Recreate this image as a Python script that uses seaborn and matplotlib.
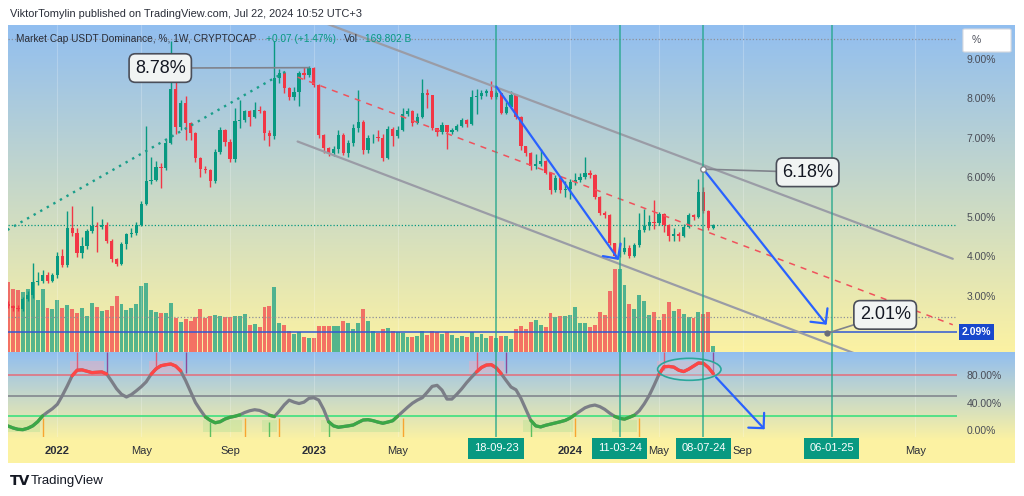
import numpy as np
import pandas as pd
import matplotlib
matplotlib.use('Agg')
import matplotlib.pyplot as plt
import matplotlib.dates as mdates
import matplotlib.transforms as mtransforms
from matplotlib.patches import Ellipse, Rectangle, FancyBboxPatch
import seaborn as sns

# ---------------- data ----------------
start_week = '2021-10-25'          # first weekly candle (Monday)
first_open = 2.80

close = [2.74, 2.70, 2.68, 2.92, 3.02, 3.35, 3.37, 3.53, 3.38, 3.52,
         4.01, 3.78, 4.71, 4.60, 4.08, 4.27, 4.64, 4.77, 4.75, 4.80,
         4.40, 3.93, 3.81, 4.31, 4.56, 4.60, 4.80, 5.33, 5.91, 5.94,
         6.27, 6.25, 6.88, 8.23, 7.28, 7.88, 7.37, 7.12, 6.49, 6.21,
         6.20, 5.90, 6.65, 7.20, 6.90, 6.46, 7.42, 7.46, 7.67, 7.54,
         7.71, 7.69, 7.12, 7.05, 8.52, 8.64, 8.27, 8.03, 8.17, 8.64,
         8.60, 8.78, 8.34, 7.08, 6.74, 6.61, 6.71, 7.08, 6.63, 6.86,
         7.24, 7.41, 6.70, 6.99, 7.01, 7.00, 6.49, 7.22, 7.05, 7.20,
         7.60, 7.68, 7.38, 7.52, 8.13, 8.08, 7.24, 7.14, 7.32, 7.14,
         7.20, 7.31, 7.46, 7.36, 8.04, 8.07, 8.13, 8.19, 8.04, 8.13,
         7.64, 7.79, 8.09, 7.52, 6.79, 6.61, 6.29, 6.33, 6.41, 6.12,
         5.67, 5.98, 5.67, 5.70, 5.89, 5.93, 6.00, 6.10, 6.06, 5.50,
         5.11, 5.05, 4.33, 4.01, 4.12, 4.22, 4.01, 4.29, 4.67, 4.77,
         4.86, 4.84, 5.07, 4.80, 4.52, 4.58, 4.52, 4.75, 5.04, 5.01,
         5.62, 5.15, 4.72, 4.79]

high = [2.86, 2.78, 2.76, 2.98, 3.12, 3.84, 3.60, 3.66, 3.60, 3.58,
        4.12, 4.20, 5.15, 5.27, 4.72, 4.50, 4.70, 5.27, 4.86, 4.95,
        4.86, 4.45, 3.95, 4.36, 4.60, 4.72, 4.86, 5.40, 7.29, 6.52,
        6.42, 6.36, 6.95, 9.45, 8.60, 7.95, 8.05, 7.40, 7.15, 6.52,
        6.30, 6.22, 6.72, 7.28, 7.22, 6.98, 7.75, 7.95, 7.72, 7.70,
        7.90, 7.80, 7.72, 7.20, 9.45, 8.75, 8.70, 8.30, 8.30, 8.70,
        8.80, 8.82, 8.80, 8.36, 7.10, 6.78, 6.80, 7.20, 7.12, 6.96,
        7.35, 8.22, 7.45, 7.08, 7.10, 7.20, 7.10, 7.30, 7.28, 7.30,
        7.75, 7.75, 7.70, 7.62, 8.50, 8.25, 8.10, 7.26, 7.40, 7.34,
        7.24, 7.36, 7.50, 7.48, 8.22, 8.25, 8.22, 8.24, 8.45, 8.20,
        8.15, 7.90, 8.18, 8.12, 7.55, 6.80, 6.65, 6.60, 6.72, 6.45,
        6.15, 6.05, 6.02, 5.90, 5.95, 6.12, 6.10, 6.51, 6.18, 6.08,
        5.52, 5.15, 5.08, 4.35, 4.35, 4.50, 4.30, 4.35, 5.10, 5.20,
        5.05, 5.43, 5.12, 5.10, 4.82, 4.72, 4.62, 4.82, 5.10, 5.08,
        5.95, 5.77, 5.18, 4.81]

low = [2.70, 2.62, 2.62, 2.62, 2.88, 2.95, 3.28, 3.33, 3.32, 3.34,
       3.46, 3.72, 3.74, 4.52, 3.98, 3.95, 4.20, 4.60, 4.12, 4.70,
       4.35, 3.86, 3.75, 3.78, 4.18, 4.48, 4.55, 4.76, 5.30, 5.84,
       5.90, 5.74, 6.18, 6.85, 7.10, 7.20, 6.94, 6.95, 6.40, 6.02,
       6.10, 5.76, 5.85, 6.60, 6.80, 6.40, 6.40, 7.25, 7.40, 7.30,
       7.50, 7.62, 6.95, 6.80, 6.98, 8.40, 8.15, 7.97, 7.95, 7.82,
       8.50, 8.55, 8.28, 7.00, 6.62, 6.54, 6.55, 6.62, 6.56, 6.52,
       6.80, 7.15, 6.60, 6.62, 6.88, 6.92, 6.42, 6.46, 6.80, 7.00,
       7.18, 7.55, 7.30, 7.35, 7.50, 7.75, 7.20, 7.05, 7.10, 6.72,
       7.10, 7.18, 7.28, 7.28, 7.34, 7.60, 7.98, 8.05, 7.98, 7.98,
       7.60, 7.60, 7.75, 7.48, 6.70, 6.55, 6.20, 6.22, 6.30, 6.08,
       5.58, 5.62, 5.60, 5.50, 5.45, 5.80, 5.88, 5.95, 5.98, 5.45,
       5.05, 4.98, 4.28, 3.95, 3.98, 4.05, 3.97, 3.99, 4.25, 4.62,
       4.68, 4.70, 4.80, 4.62, 4.38, 4.40, 4.38, 4.50, 4.72, 4.92,
       4.98, 5.10, 4.68, 4.70]

# weekly volume, billions (approx.)
volume = [1900, 1700, 1670, 1610, 1700, 1900, 1400, 1700, 1200, 1160,
          1400, 1200, 1270, 1160, 1040, 1200, 980, 1310, 1220, 1120,
          1130, 1240, 1520, 1290, 1130, 1200, 1290, 1780, 1850, 1130,
          1070, 1040, 1040, 1310, 930, 820, 880, 850, 940, 1160,
          930, 970, 1000, 980, 950, 950, 980, 980, 1020, 730,
          760, 670, 1210, 1250, 1760, 790, 730, 570, 480, 530,
          400, 370, 390, 710, 710, 710, 710, 710, 850, 770,
          610, 770, 1150, 840, 570, 520, 620, 640, 580, 550,
          500, 410, 410, 430, 570, 460, 580, 550, 490, 530,
          450, 390, 440, 410, 530, 410, 490, 370, 430, 390,
          430, 430, 340, 610, 710, 610, 820, 860, 730, 680,
          1040, 950, 970, 970, 1000, 1210, 770, 770, 680, 730,
          1090, 1000, 1660, 2240, 2240, 1810, 1300, 1150, 1540, 1390,
          1000, 1090, 860, 1020, 1360, 1110, 1150, 1020, 950, 910,
          1090, 1020, 1090, 170]

# oscillator (%)
osc = [5.8, 3, 1, 0.5, 2.5, 6, 12, 20.5, 26, 31,
       37.5, 50, 64, 79, 87, 87.5, 85.5, 83.5, 84, 84.5,
       81.5, 71, 60, 52, 48, 51.5, 57, 63, 70, 81,
       89, 93.5, 95, 96, 93, 86, 72, 56, 40, 29,
       19, 14, 10.5, 12, 16, 18.5, 20, 22, 25.5, 28,
       29.5, 28.5, 25.5, 21.5, 19.5, 27.5, 36.5, 43.5, 40.5, 38.5,
       40.5, 46, 47, 43.5, 30, 12, 6, 4, 5, 6,
       7.3, 11, 14.5, 15, 13.6, 11.5, 9.8, 11.5, 13.5, 20,
       26.5, 33, 39, 43.5, 47, 55, 63.5, 65, 58, 45,
       45, 52, 60, 69, 77, 84.5, 91, 94.5, 95, 90.5,
       82, 72, 62.5, 58.5, 46, 30, 14, 6, 4.5, 6.8,
       8.5, 10.3, 12, 14, 17.5, 22.5, 27.5, 32.3, 35, 36.3,
       34, 30, 24.5, 19.8, 17, 15.8, 18.5, 21.5, 28, 38,
       50, 65, 81, 92, 92.5, 91.5, 87, 85, 88.5, 93,
       97.5, 97, 91, 82]

# oscillator signal marks (candle indices)
red_zones = [(13, 19), (29, 35), (94, 100), (132, 143)]
green_zones = [(0, 6), (40, 47), (52, 54), (64, 79), (105, 114), (123, 127)]
top_red_marks = [14, 30, 95, 133]
top_purple_marks = [20, 36, 101, 143]
bottom_orange_marks = [7, 48, 55, 80, 115, 128]
bottom_green_marks = [41, 53, 65, 106]

price_ticks = [3, 4, 5, 6, 7, 8, 9]
osc_ticks = [0, 40, 80]
osc_levels = [80, 50, 20]

time_label_dates = ['2022-01-03', '2022-05-02', '2022-09-05', '2023-01-02', '2023-05-01',
                    '2024-01-01', '2024-05-06', '2024-09-02', '2025-05-05']
time_label_texts = ['2022', 'May', 'Sep', '2023', 'May', '2024', 'May', 'Sep', 'May']

marker_dates = ['2023-09-18', '2024-03-11', '2024-07-08', '2025-01-06']
marker_texts = ['18-09-23', '11-03-24', '08-07-24', '06-01-25']

# drawings on the price pane
trend_dates = ['2021-10-24', '2022-11-25']
trend_vals = [4.67, 8.70]
channel_dates = ['2022-12-10', '2025-06-27']
channel_upper = [10.17, 3.94]
channel_mid = [8.54, 2.27]
channel_lower = [6.91, 0.60]
arrow1_dates = ['2023-09-18', '2024-03-10']
arrow1_vals = [8.30, 3.91]
arrow2_dates = ['2024-07-08', '2024-12-30']
arrow2_vals = [6.21, 2.27]
osc_arrow_dates = ['2024-07-26', '2024-10-03']
osc_arrow_vals = [76.7, 1.0]
hline_blue = 2.09
hline_dotted = [9.5, 2.47]

labels = [('8.78%', '2022-12-26', 8.78, '2022-05-29', 8.77),
          ('6.18%', '2024-07-08', 6.21, '2024-12-03', 6.13),
          ('2.01%', '2024-12-30', 2.05, '2025-03-23', 2.52)]

# ---------------- figure ----------------
sns.set_style('white')
plt.rcParams['font.family'] = ['Liberation Sans', 'DejaVu Sans']

W, H = 1024, 496
fig = plt.figure(figsize=(W / 100, H / 100), dpi=100)
fig.patch.set_facecolor('white')


def box(l, t, r, b):
    return [l / W, 1 - b / H, (r - l) / W, (b - t) / H]


# gradient background (blue -> yellow)
c_top = np.array([145, 190, 240]) / 255
c_bot = np.array([252, 242, 162]) / 255
rows = np.arange(25, 463) + 0.5
tt = np.where(rows < 352, (rows - 25) / (352 - 25), np.clip((rows - 352) / (440 - 352), 0, 1))
grad = c_top[None, :] + tt[:, None] * (c_bot - c_top)[None, :]
bg = fig.add_axes(box(8, 25, 1015, 463))
bg.imshow(grad[:, None, :], aspect='auto', extent=(0, 1, 0, 1))
bg.axis('off')
bg.set_zorder(0)

dates = pd.date_range(start_week, periods=len(close), freq='7D')
x = mdates.date2num(dates)
xlim = (x[0] - 0.1, mdates.date2num(pd.Timestamp('2025-07-03')))
close_a = np.array(close)
op = np.r_[first_open, close_a[:-1]]
up = close_a >= op
col = np.where(up, '#089981', '#f23645')

d2n = lambda d: mdates.date2num(pd.Timestamp(d))

# volume pane (shares area with price)
vax = fig.add_axes(box(8, 25, 957, 352))
vax.set_facecolor('none')
vax.bar(x, volume, width=5.6, color=col, alpha=0.68, linewidth=0)
vax.set_xlim(*xlim)
vax.set_ylim(0, 8830)
vax.axis('off')
vax.set_zorder(1)

# price pane
ax = fig.add_axes(box(8, 25, 957, 352))
ax.set_facecolor('none')
ax.set_zorder(2)
ax.set_xlim(*xlim)
ax.set_ylim(1.58, 9.86)

for d in time_label_dates:
    ax.axvline(d2n(d), color='white', alpha=0.22, lw=0.8, zorder=0)

for v in hline_dotted:
    ax.axhline(v, color='#8d909a', ls=(0, (1, 1.6)), lw=0.9, zorder=1)
ax.axhline(close[-1], color='#089981', ls=(0, (1, 1.6)), lw=0.9, zorder=1)
ax.axhline(hline_blue, color='#3159d4', lw=1.1, zorder=2)

# candles
ax.vlines(x, low, high, colors=col, lw=1, zorder=3)
body_lo = np.minimum(op, close_a)
body_h = np.maximum(np.abs(close_a - op), 0.02)
ax.bar(x, body_h, bottom=body_lo, width=4.6, color=col, linewidth=0, zorder=4)

# trend line and channel
ax.plot([d2n(d) for d in trend_dates], trend_vals, color='#1a9e8a', ls=(0, (1, 2.2)), lw=1.7, zorder=5)
cx = [d2n(d) for d in channel_dates]
ax.plot(cx, channel_upper, color='#9a9ca6', lw=1.6, zorder=5)
ax.plot(cx, channel_lower, color='#9a9ca6', lw=1.6, zorder=5)
ax.plot(cx, channel_mid, color='#f0525c', ls=(0, (4, 4)), lw=1.1, zorder=5)

# vertical markers
for d in marker_dates:
    ax.axvline(d2n(d), color='#23a68a', lw=1.2, alpha=0.8, zorder=6)

arrow_kw = dict(arrowstyle='->,head_length=0.65,head_width=0.65', color='#2962ff', lw=1.6,
                shrinkA=0, shrinkB=0, mutation_scale=12)
for ds, vs in [(arrow1_dates, arrow1_vals), (arrow2_dates, arrow2_vals)]:
    ax.annotate('', xy=(d2n(ds[1]), vs[1]), xytext=(d2n(ds[0]), vs[0]), arrowprops=arrow_kw, zorder=7)

# callout labels
for txt, ad, av, bd, bv in labels:
    ax.annotate(txt, xy=(d2n(ad), av), xytext=(d2n(bd), bv), fontsize=13, color='#131722',
                ha='center', va='center', zorder=9,
                bbox=dict(boxstyle='round,pad=0.32,rounding_size=0.35', fc='#f1f4f3', ec='#4a4e59', lw=1.2),
                arrowprops=dict(arrowstyle='-', color='#80838c', lw=1.2, shrinkA=0, shrinkB=0))
ax.plot(d2n(labels[1][1]), labels[1][2], 'o', ms=4, mfc='white', mec='#80838c', zorder=10)
ax.plot(d2n(labels[2][1]), labels[2][2], 'o', ms=3.5, mfc='#6a6d78', mec='#6a6d78', zorder=10)

ax.yaxis.tick_right()
ax.set_yticks(price_ticks)
ax.set_yticklabels([f'{v:.2f}%' for v in price_ticks])
ax.tick_params(axis='y', length=0, pad=7, labelsize=7.5, labelcolor='#4a4d57')
ax.set_xticks([])
ax.text(1.005, hline_blue, f'{hline_blue:.2f}%', transform=mtransforms.blended_transform_factory(ax.transAxes, ax.transData),
        ha='left', va='center', fontsize=7.5, color='white', fontweight='bold',
        bbox=dict(boxstyle='square,pad=0.3', fc='#1848cc', ec='none'), zorder=10, clip_on=False)
sns.despine(ax=ax, left=True, bottom=True, right=True, top=True)

# oscillator pane
oax = fig.add_axes(box(8, 352, 957, 437))
oax.set_facecolor('none')
oax.set_zorder(2)
oax.set_xlim(*xlim)
oax.set_ylim(-10.2, 113.5)
for d in time_label_dates:
    oax.axvline(d2n(d), color='white', alpha=0.22, lw=0.8, zorder=0)
for lv, lc in zip(osc_levels, ['#e56b78', '#7d808a', '#2fe07a']):
    oax.axhline(lv, color=lc, lw=1.1, zorder=1)
for a, b in red_zones:
    oax.add_patch(Rectangle((x[a] - 3.5, 82.5), x[b] - x[a] + 7, 18.5, fc='#f2a9bd', alpha=0.45, lw=0, zorder=1))
for a, b in green_zones:
    oax.add_patch(Rectangle((x[a] - 3.5, -3), x[b] - x[a] + 7, 18, fc='#bfe39a', alpha=0.5, lw=0, zorder=1))
oax.vlines(x[top_red_marks], 87, 113.5, color='#e25a75', lw=1, zorder=2)
oax.vlines(x[top_purple_marks], 82.5, 113.5, color='#8e4a9a', lw=1, zorder=2)
oax.vlines(x[bottom_orange_marks], -10.2, 17.5, color='#f7a531', lw=1, zorder=2)
oax.vlines(x[bottom_green_marks], -10.2, 12, color='#5cbf60', lw=1, zorder=2)

osc_a = np.array(osc)
sns.lineplot(x=x, y=osc_a, ax=oax, color='#7b7e87', lw=2.3, zorder=3)
oax.plot(x, np.ma.masked_where(osc_a < 79, osc_a), color='#ff4545', lw=2.3, zorder=4)
oax.plot(x, np.ma.masked_where(osc_a > 24, osc_a), color='#3aa845', lw=2.3, zorder=4)

oax.add_patch(Ellipse((d2n('2024-06-18'), 88.3), width=90, height=32, fc='#b9d9e6', alpha=0.35,
                      ec='none', zorder=2))
oax.add_patch(Ellipse((d2n('2024-06-18'), 88.3), width=90, height=32, fc='none', ec='#2aa79b',
                      lw=1.2, zorder=5))
oax.annotate('', xy=(d2n(osc_arrow_dates[1]), osc_arrow_vals[1]),
             xytext=(d2n(osc_arrow_dates[0]), osc_arrow_vals[0]), arrowprops=arrow_kw, zorder=6)
for d in marker_dates:
    oax.axvline(d2n(d), color='#23a68a', lw=1.2, alpha=0.8, zorder=6)

oax.yaxis.tick_right()
oax.set_yticks(osc_ticks)
oax.set_yticklabels([f'{v:.2f}%' for v in osc_ticks])
oax.tick_params(axis='y', length=0, pad=7, labelsize=7.5, labelcolor='#4a4d57')
oax.set_xticks([])
oax.set_ylabel('')
sns.despine(ax=oax, left=True, bottom=True, right=True, top=True)

# time axis
tax = fig.add_axes(box(8, 437, 957, 463))
tax.set_facecolor('none')
tax.set_zorder(3)
tax.set_xlim(*xlim)
tax.set_ylim(0, 1)
tax.axis('off')
for d, t in zip(time_label_dates, time_label_texts):
    tax.text(d2n(d), 0.45, t, ha='center', va='center', fontsize=8, color='#2a2e39',
             fontweight='bold' if t.isdigit() else 'normal')
for d, t in zip(marker_dates, marker_texts):
    tax.text(d2n(d), 0.56, t, ha='center', va='center', fontsize=8, color='white', zorder=5,
             bbox=dict(boxstyle='square,pad=0.5', fc='#089981', ec='none'))

# header and texts
fig.text(10 / W, 1 - 14 / H, 'ViktorTomylin published on TradingView.com, Jul 22, 2024 10:52 UTC+3',
         fontsize=7.9, color='#2a2e39', va='center')
fig.text(16 / W, 1 - 39.5 / H, 'Market Cap USDT Dominance, %, 1W, CRYPTOCAP', fontsize=7.3,
         color='#2a2e39', va='center')
fig.text(266 / W, 1 - 39.5 / H, '+0.07 (+1.47%)', fontsize=7.3, color='#089981', va='center')
fig.text(344 / W, 1 - 39.5 / H, 'Vol', fontsize=7.3, color='#2a2e39', va='center')
fig.text(365 / W, 1 - 39.5 / H, '169.802 B', fontsize=7.3, color='#089981', va='center')

fig.patches.append(FancyBboxPatch((965 / W, 1 - 51 / H), 44 / W, 21 / H, boxstyle='round,pad=0.002',
                                  transform=fig.transFigure, fc='white', ec='#d6d8de', lw=0.8, zorder=20))
fig.text(972 / W, 1 - 40 / H, '%', fontsize=7.5, color='#50535e', va='center', zorder=21)

fig.text(10 / W, 1 - 481 / H, 'TV', fontsize=10, fontweight='heavy', color='#131722', va='center',
         family='DejaVu Sans')
fig.text(31 / W, 1 - 481 / H, 'TradingView', fontsize=9.5, color='#131722', va='center')

plt.savefig('out.png', dpi=100, facecolor='white')
